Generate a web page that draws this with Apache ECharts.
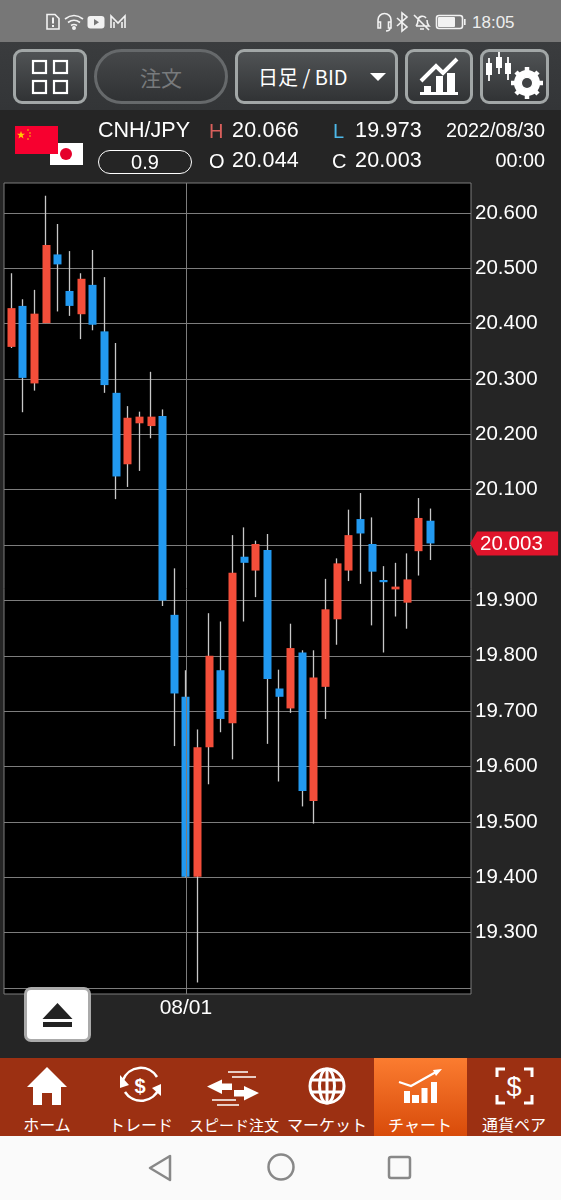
<!DOCTYPE html>
<html lang="ja">
<head>
<meta charset="utf-8">
<title>CNH/JPY</title>
<script src="https://cdn.jsdelivr.net/npm/echarts@6/dist/echarts.min.js"></script>
<style>
  html, body { margin: 0; padding: 0; background: #252525; }
  #page { position: relative; width: 561px; height: 1200px; overflow: hidden; font-family: "Liberation Sans", Arial, sans-serif; color: #fff; }
  #chart { position: absolute; left: 0; top: 0; width: 561px; height: 1200px; }
  .box { position: absolute; box-sizing: border-box; }
  .txt { position: absolute; white-space: nowrap; line-height: 1; transform: translateY(-50%); }
  .num { font-size: 21.500px; letter-spacing: 0.2px; }
  .btn { border: 3px solid #a2a7a7; border-radius: 9px; background: linear-gradient(#505355, #313335); }
  .tab-label { font-family: "Noto Sans CJK JP", sans-serif; font-size: 16px; transform: translate(-50%, -50%); }
  svg { position: absolute; overflow: visible; }
</style>
</head>
<body>
<div id="page">
  <div id="chart"></div>

  <!-- status bar -->
  <div class="box" style="left:0;top:0;width:561px;height:42px;background:#777"></div>
  <svg style="left:0;top:0" width="561" height="42" fill="none" stroke="#f2f2f2" stroke-width="1.6">
    <path d="M47 14.5h8l4 4v10.5h-12z" />
    <path d="M53 17.5v6M53 25v2" stroke-width="2" />
    <path d="M65 19q9-7 18 0M68 22.5q6-4.5 12 0M71 25.5q3-2 6 0" />
    <circle cx="74" cy="28" r="1.2" fill="#f2f2f2" />
    <rect x="87.500" y="16" width="17" height="12.500" rx="3" fill="#f2f2f2" stroke="none" />
    <path d="M94 19l5 3.200-5 3.200z" fill="#777" stroke="none" />
    <path d="M111 28v-12l7 7 7-7v12M114 28v-6M122 28v-6" />
    <path d="M378 25v-5a6.500 6.500 0 0 1 13 0v5M378 22h2.500v6h-2.500zM388.500 22h2.500v6h-2.500zM390 28q0 3-4 3" />
    <path d="M397 18l10 9-5 4v-18l5 4-10 9" />
    <path d="M416 26q2-2 2-6a4.500 4.500 0 0 1 8 -2M427 20q0 4 2 6h-13M420 29h4M414 15l15 15" />
    <rect x="436.500" y="15.500" width="26" height="13" rx="2.500" />
    <rect x="438" y="17" width="17" height="10" rx="1" fill="#f2f2f2" stroke="none" />
    <rect x="464" y="19" width="1.600" height="6" fill="#f2f2f2" stroke="none" />
  </svg>
  <div class="txt" style="left:472px;top:22px;font-size:17px;color:#eee">18:05</div>

  <!-- toolbar -->
  <div class="box" style="left:0;top:42px;width:561px;height:68px;background:linear-gradient(#3a3c3e,#333537)"></div>
  <div class="box btn" style="left:13px;top:49px;width:74px;height:55px"></div>
  <svg style="left:0;top:42px" width="100" height="68" fill="none" stroke="#fff" stroke-width="2.200">
    <rect x="33" y="19" width="13" height="12" /><rect x="54" y="19" width="13" height="12" />
    <rect x="33" y="39" width="13" height="12" /><rect x="54" y="39" width="13" height="12" />
  </svg>
  <div class="box" style="left:94px;top:49px;width:134px;height:55px;border:3px solid #66696b;border-radius:28px;background:linear-gradient(#46484a,#303234)"></div>
  <div class="txt" style="left:161px;top:77px;transform:translate(-50%,-50%);font-family:'Noto Sans CJK JP';font-size:21px;color:#787a7c">注文</div>
  <div class="box btn" style="left:235px;top:49px;width:163px;height:55px"></div>
  <div class="txt" style="left:258px;top:77px;font-family:'Noto Sans CJK JP';font-size:20px">日足 / BID</div>
  <svg style="left:0;top:0" width="561" height="110"><path d="M370 73h16l-8 8z" fill="#fff" /></svg>
  <div class="box btn" style="left:405px;top:49px;width:68px;height:55px"></div>
  <svg style="left:405px;top:49px" width="68" height="55">
    <path d="M16 32l15-15 7 7 14-14" fill="none" stroke="#fff" stroke-width="4" />
    <path d="M19 37h7v7h-7zM31 27h7v17h-7zM42 24h8v20h-8z" fill="#fff" />
    <rect x="15" y="43" width="38" height="3" fill="#fff" />
  </svg>
  <div class="box btn" style="left:480px;top:49px;width:69px;height:55px"></div>
  <svg style="left:480px;top:49px" width="69" height="55" fill="#fff" stroke="#fff">
    <path d="M9 9v23M19 3v22M28 8v23" stroke-width="1.800" />
    <rect x="6" y="14" width="6" height="12" stroke="none" />
    <rect x="16" y="8" width="6" height="11" stroke="none" />
    <rect x="25" y="14" width="6" height="11" stroke="none" />
    <circle cx="47" cy="34" r="9.500" fill="none" stroke-width="7" />
    <path d="M47 18v32M31 34h32M36 23l22 22M36 45l22-22" stroke-width="4.500" />
    <circle cx="47" cy="34" r="5" fill="#3f4143" stroke="none" />
  </svg>

  <!-- quote header -->
  <svg style="left:0;top:110px" width="100" height="70">
    <rect x="50" y="33" width="33" height="22" fill="#fff" />
    <circle cx="66" cy="44" r="6" fill="#e5002b" />
    <rect x="15" y="16" width="43" height="28" fill="#f7002f" />
    <path d="M21 21l1 2.800h3l-2.400 1.800.9 2.800-2.500-1.700-2.500 1.700.9-2.800-2.400-1.800h3z" fill="#fc0" />
    <circle cx="28" cy="20" r="0.800" fill="#fc0" /><circle cx="30" cy="23" r="0.800" fill="#fc0" />
    <circle cx="30" cy="26" r="0.800" fill="#fc0" /><circle cx="28" cy="29" r="0.800" fill="#fc0" />
  </svg>
  <div class="txt" style="left:98px;top:131px;font-size:21.500px">CNH/JPY</div>
  <div class="box" style="left:98px;top:150px;width:94px;height:24px;border:1.500px solid #fff;border-radius:12px"></div>
  <div class="txt" style="left:145px;top:162px;transform:translate(-50%,-50%);font-size:20px">0.9</div>
  <div class="txt" id="lblH" style="left:209px;top:131px;font-size:20px;color:#d9605c">H</div>
  <div class="txt num" id="valH" style="left:232px;top:131px"></div>
  <div class="txt" id="lblL" style="left:333px;top:131px;font-size:20px;color:#4db8e8">L</div>
  <div class="txt num" id="valL" style="left:355px;top:131px"></div>
  <div class="txt" style="left:209px;top:161px;font-size:20px">O</div>
  <div class="txt num" id="valO" style="left:232px;top:161px"></div>
  <div class="txt" style="left:332px;top:161px;font-size:20px">C</div>
  <div class="txt num" id="valC" style="left:355px;top:161px"></div>
  <div class="txt" style="right:16px;top:131px;font-size:19.800px">2022/08/30</div>
  <div class="txt" style="right:16px;top:161px;font-size:19.800px">00:00</div>

  <!-- eject button -->
  <div class="box" style="left:24px;top:987px;width:67px;height:55px;background:#fff;border:3px solid #aaa;border-radius:7px"></div>
  <svg style="left:24px;top:987px" width="67" height="55"><path d="M33.500 16l15 16h-30zM19 35h29v5h-29z" fill="#222" /></svg>

  <!-- tab bar -->
  <div class="box" style="left:0;top:1058px;width:561px;height:78px;background:#9c3012"></div>
  <div class="box" style="left:374px;top:1058px;width:93px;height:78px;background:linear-gradient(#fb7c30,#d84b0a)"></div>
  <svg style="left:0;top:1058px" width="561" height="62" fill="#fff" stroke="none">
    <path d="M47 9l20 20h-6v18h-9v-12h-10v12h-9v-18h-6z" />
    <g fill="none" stroke="#fff" stroke-width="2.500">
      <path d="M123 22a19 19 0 0 1 34-3M159 30a19 19 0 0 1-34 4" />
    </g>
    <path d="M120 17l9 10-9 3zM161 38l-9-8 9-4z" />
    <text x="140" y="35" font-size="20" font-weight="bold" text-anchor="middle" font-family="Liberation Sans">$</text>
    <path d="M207 28.500l15-7v4h10v6.500h-10v4zM259 35l-15-7v4h-10v6.500h10v4z" />
    <path d="M228 14h20M232 19h24M212 42h24M217 47h22" stroke="#fff" stroke-width="1.500" fill="none" />
    <g fill="none" stroke="#fff" stroke-width="3">
      <circle cx="327" cy="28" r="17" />
      <ellipse cx="327" cy="28" rx="7.500" ry="17" />
      <path d="M310 22h34M310 34h34M327 11v34" />
    </g>
    <path d="M399 24l12 4 25-14" fill="none" stroke="#fff" stroke-width="2.200" />
    <path d="M442 11l-9 1 3 6z" />
    <path d="M404 33h6v12h-6zM412 37h7v8h-7zM421.500 30h6v15h-6zM431 24h6v21h-6z" />
    <g fill="none" stroke="#fff" stroke-width="3">
      <path d="M505 11h-8v8M524 11h8v8M505 45h-8v-8M524 45h8v-8" />
    </g>
    <text x="514" y="38" font-size="27" text-anchor="middle" font-family="Liberation Sans">$</text>
  </svg>
  <div class="txt tab-label" style="left:47px;top:1124px">ホーム</div>
  <div class="txt tab-label" style="left:141px;top:1124px">トレード</div>
  <div class="txt tab-label" style="left:234px;top:1124px;font-size:15px">スピード注文</div>
  <div class="txt tab-label" style="left:327px;top:1124px">マーケット</div>
  <div class="txt tab-label" style="left:420px;top:1124px">チャート</div>
  <div class="txt tab-label" style="left:514px;top:1124px">通貨ペア</div>

  <!-- nav bar -->
  <div class="box" style="left:0;top:1136px;width:561px;height:64px;background:#fafafa"></div>
  <svg style="left:0;top:1136px" width="561" height="64" fill="none" stroke="#888" stroke-width="2.500">
    <path d="M170 20v24l-20-12z" stroke-linejoin="round" />
    <circle cx="281" cy="31" r="12.500" />
    <rect x="389" y="21" width="21" height="21" rx="2" />
  </svg>
</div>

<script>
// daily bars
const dates = [
  "07/11", "07/12", "07/13", "07/14", "07/15",
  "07/18", "07/19", "07/20", "07/21", "07/22",
  "07/25", "07/26", "07/27", "07/28", "07/29",
  "08/01", "08/02", "08/03", "08/04", "08/05",
  "08/08", "08/09", "08/10", "08/11", "08/12",
  "08/15", "08/16", "08/17", "08/18", "08/19",
  "08/22", "08/23", "08/24", "08/25", "08/26",
  "08/29", "08/30",
  // empty room right of the last bar
  "", "", "",
];
const opens = [
  20.358, 20.432, 20.292, 20.401, 20.525, 20.459, 20.417, 20.470, 20.386, 20.275,
  20.146, 20.220, 20.215, 20.233, 19.874, 19.726, 19.401, 19.635, 19.774, 19.678,
  19.979, 19.954, 19.991, 19.741, 19.705, 19.806, 19.538, 19.744, 19.866, 19.954,
  20.047, 20.002, 19.937, 19.920, 19.896, 19.989, 20.044,
];
const closes = [
  20.428, 20.302, 20.418, 20.542, 20.507, 20.432, 20.481, 20.398, 20.289, 20.124,
  20.230, 20.232, 20.232, 19.900, 19.732, 19.401, 19.635, 19.800, 19.686, 19.950,
  19.968, 20.002, 19.758, 19.726, 19.814, 19.556, 19.761, 19.884, 19.967, 20.018,
  20.021, 19.952, 19.933, 19.925, 19.938, 20.049, 20.003,
];
const lows = [
  20.356, 20.240, 20.279, 20.401, 20.422, 20.414, 20.372, 20.388, 20.275, 20.083,
  20.105, 20.134, 20.193, 19.890, 19.637, 19.400, 19.210, 19.568, 19.662, 19.613,
  19.862, 19.906, 19.641, 19.573, 19.697, 19.528, 19.497, 19.686, 19.820, 19.935,
  19.930, 19.855, 19.806, 19.871, 19.849, 19.945, 19.973,
];
const highs = [
  20.491, 20.444, 20.461, 20.631, 20.580, 20.531, 20.491, 20.533, 20.484, 20.365,
  20.251, 20.241, 20.313, 20.245, 19.958, 19.774, 19.667, 19.877, 19.862, 20.018,
  20.032, 20.008, 20.020, 19.775, 19.858, 19.810, 19.810, 19.939, 19.976, 20.064,
  20.094, 20.050, 19.962, 19.968, 19.985, 20.085, 20.066,
];
const gridValues = [
  19.2, 19.3, 19.4, 19.5, 19.6, 19.7, 19.8, 19.9,
  20.0, 20.1, 20.2, 20.3, 20.4, 20.5, 20.6,
];
const labelValues = gridValues.slice(1);
const dateLabels = ["08/01"];

const yMin = 19.1892;
const yMax = 20.654;

const lastIdx = opens.length - 1;
const lastClose = closes[lastIdx];

document.getElementById("valH").textContent = highs[lastIdx].toFixed(3);
document.getElementById("valL").textContent = lows[lastIdx].toFixed(3);
document.getElementById("valO").textContent = opens[lastIdx].toFixed(3);
document.getElementById("valC").textContent = lastClose.toFixed(3);

const isDateTick = (i) => dateLabels.includes(dates[i]);

const wickData = opens.map((o, i) => [o, closes[i], lows[i], highs[i]]);
const bodyData = opens.map((o, i) => [
  o,
  closes[i],
  Math.min(o, closes[i]),
  Math.max(o, closes[i]),
]);

function renderPriceTag(params, api) {
  const y = api.coord([lastIdx, api.value(1)])[1];
  const x0 = params.coordSys.x + params.coordSys.width;
  return {
    type: "group",
    children: [
      {
        type: "polygon",
        shape: {
          points: [
            [x0 - 1, y],
            [x0 + 6, y - 12],
            [x0 + 87, y - 12],
            [x0 + 87, y + 12],
            [x0 + 6, y + 12],
          ],
        },
        style: { fill: "#e0142b" },
      },
      {
        type: "text",
        style: {
          x: x0 + 9,
          y: y + 1,
          text: lastClose.toFixed(3),
          fill: "#fff",
          font: '20.5px "Liberation Sans"',
          verticalAlign: "middle",
        },
      },
    ],
  };
}

const chart = echarts.init(document.getElementById("chart"));

chart.setOption({
  animation: false,
  backgroundColor: "#252525",
  grid: [
    // frame + horizontal lines
    {
      left: 4,
      top: 183,
      width: 467,
      height: 811,
      show: true,
      backgroundColor: "#000",
      borderColor: "#7d7d7d",
      borderWidth: 1,
    },
    // bars, 1.5px in from the frame
    { left: 5.5, top: 183, width: 465.6, height: 811 },
  ],
  xAxis: [
    { gridIndex: 0, type: "category", data: dates, show: false },
    {
      gridIndex: 1,
      type: "category",
      data: dates,
      boundaryGap: true,
      axisLine: { show: false },
      axisTick: { show: false },
      axisLabel: {
        interval: (i) => isDateTick(i),
        color: "#fff",
        fontSize: 21,
        fontFamily: "Liberation Sans",
        margin: 4,
      },
      splitLine: { show: false },
    },
  ],
  yAxis: [
    {
      gridIndex: 0,
      type: "value",
      position: "right",
      min: yMin,
      max: yMax,
      axisLine: { show: false },
      axisTick: { show: false, customValues: gridValues },
      splitLine: { show: true, lineStyle: { color: "#7d7d7d", width: 1 } },
      axisLabel: {
        customValues: labelValues,
        formatter: (v) => v.toFixed(3),
        color: "#fff",
        fontSize: 20.5,
        fontFamily: "Liberation Sans",
        margin: 4,
        padding: [4, 0, 0, 0],
      },
    },
    {
      gridIndex: 1,
      type: "value",
      min: yMin,
      max: yMax,
      show: false,
      splitLine: { show: false },
    },
  ],
  series: [
    {
      name: "wick",
      type: "candlestick",
      xAxisIndex: 1,
      yAxisIndex: 1,
      data: wickData,
      barWidth: 1,
      z: 3,
      itemStyle: {
        color: "#c8c8c8",
        color0: "#c8c8c8",
        borderColor: "#c8c8c8",
        borderColor0: "#c8c8c8",
        borderWidth: 1.3,
      },
      // vertical marker on the month start
      markLine: {
        silent: true,
        symbol: "none",
        label: { show: false },
        lineStyle: { color: "#7d7d7d", width: 1, type: "solid" },
        data: dateLabels.map((d) => ({ xAxis: d })),
      },
    },
    {
      name: "body",
      type: "candlestick",
      xAxisIndex: 1,
      yAxisIndex: 1,
      data: bodyData,
      barWidth: 8.5,
      z: 4,
      itemStyle: {
        color: "#f44e3a",
        color0: "#2299f0",
        borderColor: "#f44e3a",
        borderColor0: "#2299f0",
        borderWidth: 0,
      },
    },
    {
      name: "last",
      type: "custom",
      xAxisIndex: 1,
      yAxisIndex: 1,
      data: [[lastIdx, lastClose]],
      renderItem: renderPriceTag,
      z: 5,
      silent: true,
    },
  ],
});
</script>
</body>
</html>
